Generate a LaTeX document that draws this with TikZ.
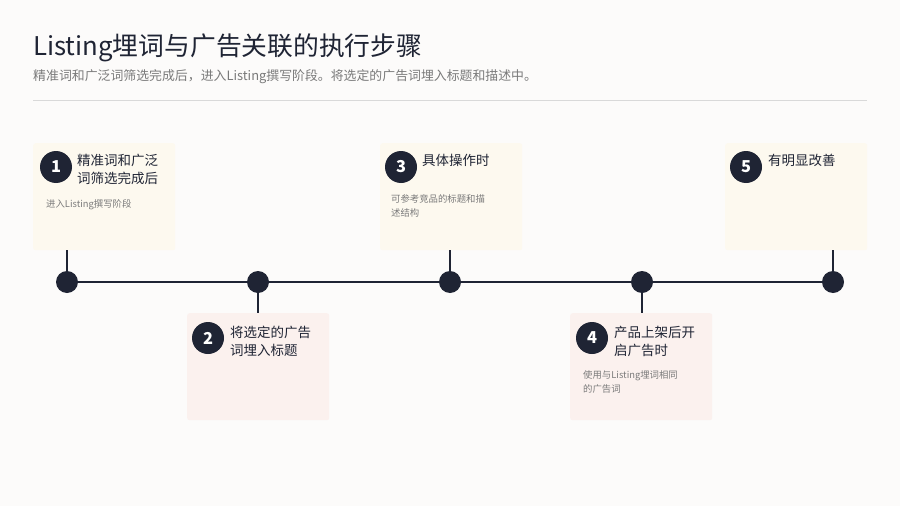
\documentclass[tikz,border=0pt]{standalone}
\usepackage{fontspec}
\setmainfont{Noto Sans CJK SC}
\usetikzlibrary{positioning}

\definecolor{navy}{HTML}{1F2434}
\definecolor{paper}{HTML}{FCFBFA}
\definecolor{cardy}{HTML}{FDF9EF}
\definecolor{cardp}{HTML}{FBF1EE}
\definecolor{subgray}{HTML}{7A7A7A}

\tikzset{
  card/.style={fill=#1, rounded corners=2pt, minimum width=142*0.03cm,
    minimum height=107*0.03cm, anchor=north west, inner sep=0pt},
  dot/.style={circle, fill=navy, minimum size=22*0.03cm, inner sep=0pt},
  badge/.style={circle, fill=navy, text=white, minimum size=32*0.03cm,
    inner sep=0pt, font=\fontsize{14pt}{14pt}\bfseries},
  steptitle/.style={anchor=north west, align=left, text=navy, inner sep=0pt,
    font=\fontsize{11.5pt}{15.5pt}\selectfont},
  stepdesc/.style={anchor=north west, align=left, text=subgray, inner sep=0pt,
    font=\fontsize{8pt}{12pt}\selectfont},
  link/.style={navy, line width=2.2pt},
}

\begin{document}
\begin{tikzpicture}[x=0.03cm, y=-0.03cm]
    \fill[paper] (0,0) rectangle (900,506);
    \useasboundingbox (0,0) rectangle (900,506);

    % heading
    \node[anchor=west, inner sep=0pt, text=navy,
          font=\fontsize{22pt}{22pt}\selectfont] (title) at (33,48)
         {Listing埋词与广告关联的执行步骤};
    \node[anchor=west, inner sep=0pt, text=subgray,
          font=\fontsize{11pt}{11pt}\selectfont] (subtitle) at (33,77)
         {精准词和广泛词筛选完成后，进入Listing撰写阶段。将选定的广告词埋入标题和描述中。};
    \draw[black!15, line width=0.6pt] (33,100) -- (867,100);

    % cards
    \node[card=cardy] (c1) at (33,143) {};
    \node[card=cardp] (c2) at (187,313) {};
    \node[card=cardy] (c3) at (380,143) {};
    \node[card=cardp] (c4) at (570,313) {};
    \node[card=cardy] (c5) at (725,143) {};

    % timeline
    \foreach \i/\x in {1/67,2/258,3/450,4/642,5/833}
        \node[dot] (d\i) at (\x,282) {};
    \draw[link] (d1) -- (d2) -- (d3) -- (d4) -- (d5);
    \draw[link] (d1) -- (d1 |- c1.south);
    \draw[link] (d2) -- (d2 |- c2.north);
    \draw[link] (d3) -- (d3 |- c3.south);
    \draw[link] (d4) -- (d4 |- c4.north);
    \draw[link] (d5) -- (d5 |- c5.south);

    % step 1
    \node[badge] (b1) at (56,167) {1};
    \node[steptitle] (t1) at (77,154) {精准词和广泛\\词筛选完成后};
    \node[stepdesc] (s1) at (46,199) {进入Listing撰写阶段};

    % step 2
    \node[badge] (b2) at (208,338) {2};
    \node[steptitle] (t2) at (230,326) {将选定的广告\\词埋入标题};

    % step 3
    \node[badge] (b3) at (401,167) {3};
    \node[steptitle] (t3) at (422,154) {具体操作时};
    \node[stepdesc] (s3) at (391,194) {可参考竞品的标题和描\\述结构};

    % step 4
    \node[badge] (b4) at (592,338) {4};
    \node[steptitle] (t4) at (614,326) {产品上架后开\\启广告时};
    \node[stepdesc] (s4) at (583,370) {使用与Listing埋词相同\\的广告词};

    % step 5
    \node[badge] (b5) at (746,167) {5};
    \node[steptitle] (t5) at (768,154) {有明显改善};
\end{tikzpicture}
\end{document}
